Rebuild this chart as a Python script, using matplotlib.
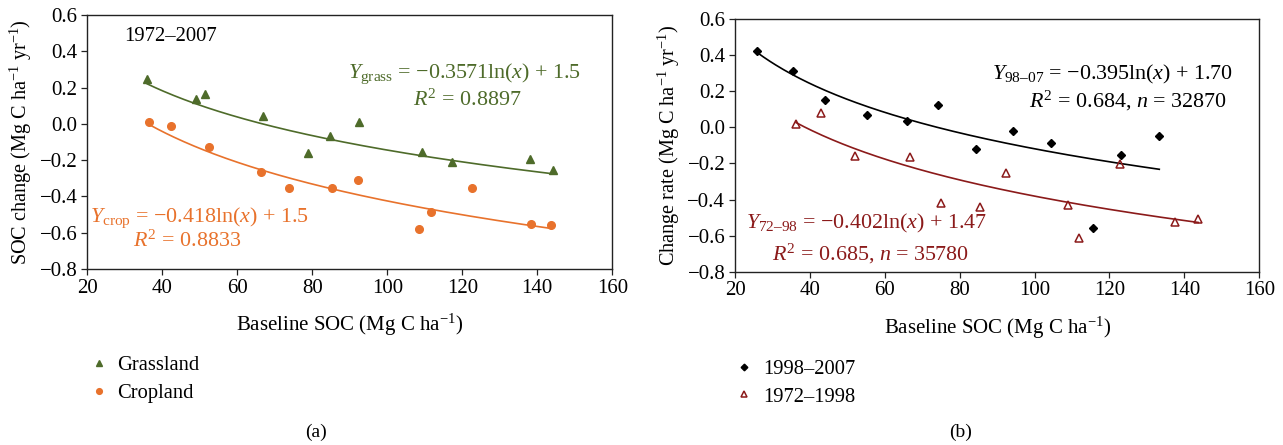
import numpy as np
import matplotlib
matplotlib.use("Agg")
import matplotlib.pyplot as plt
from matplotlib.ticker import FuncFormatter

plt.rcParams['font.family'] = ['Liberation Serif', 'DejaVu Serif']
plt.rcParams['mathtext.fontset'] = 'custom'
plt.rcParams['mathtext.rm'] = 'Liberation Serif'
plt.rcParams['mathtext.it'] = 'Liberation Serif:italic'
plt.rcParams['axes.unicode_minus'] = True

##########################################################
## Data
##########################################################

# (a) 1972-2007, SOC change vs baseline SOC
grass_x = [36.0, 48.9, 51.4, 66.8, 78.9, 84.7, 92.5, 109.4, 117.4, 138.0, 144.2]
grass_y = [0.247, 0.135, 0.163, 0.045, -0.160, -0.069, 0.012, -0.155, -0.208, -0.192, -0.254]
crop_x = [36.6, 42.4, 52.4, 66.3, 73.7, 85.4, 92.2, 108.5, 111.6, 122.6, 138.4, 143.8]
crop_y = [0.008, -0.010, -0.130, -0.265, -0.353, -0.353, -0.310, -0.581, -0.486, -0.352, -0.550, -0.557]

# (b) change rate for two periods
p9807_x = [26.0, 35.6, 44.1, 55.3, 65.9, 74.3, 84.4, 94.3, 104.4, 115.6, 123.0, 133.3]
p9807_y = [0.424, 0.313, 0.151, 0.067, 0.036, 0.121, -0.121, -0.023, -0.088, -0.560, -0.151, -0.049]
p7298_x = [36.3, 42.9, 52.1, 66.7, 75.1, 85.3, 92.3, 109.0, 111.9, 122.8, 137.5, 143.7]
p7298_y = [0.016, 0.082, -0.160, -0.166, -0.417, -0.439, -0.254, -0.428, -0.613, -0.204, -0.524, -0.508]

# log fit coefficients (slope, intercept) as printed on the chart
fit_grass = (-0.3571, 1.5)
fit_crop = (-0.418, 1.5)
fit_9807 = (-0.395, 1.70)
fit_7298 = (-0.402, 1.47)

x_ticks = [20, 40, 60, 80, 100, 120, 140, 160]
y_ticks = [-0.8, -0.6, -0.4, -0.2, 0.0, 0.2, 0.4, 0.6]

c_grass = '#4e6b2a'
c_crop = '#e8722c'
c_9807 = '#000000'
c_7298 = '#8b1a1a'

FS_TICK = 15
FS_LAB = 15
FS_EQ = 15.8


def log_curve(x, coef):
    xs = np.linspace(min(x), max(x), 200)
    return xs, coef[0] * np.log(xs) + coef[1]


def fmt_y(v, pos):
    s = '%.1f' % (round(v, 2) + 0.0)
    return s.replace('-', '\u2212')


def style_axes(ax):
    ax.set_xlim(20, 160)
    ax.set_ylim(-0.8, 0.6)
    ax.set_xticks(x_ticks)
    ax.set_yticks(y_ticks)
    ax.yaxis.set_major_formatter(FuncFormatter(fmt_y))
    ax.tick_params(direction='out', length=4, width=0.9, labelsize=FS_TICK, pad=3,
                   top=False, right=False, colors='#222222', labelcolor='black')
    for s in ax.spines.values():
        s.set_linewidth(1.0)
        s.set_color('#222222')
    ax.set_xlabel('Baseline SOC (Mg C ha$^{-1}$)', fontsize=FS_LAB, labelpad=10)


fig = plt.figure(figsize=(12.83, 4.45), dpi=100)
ax1 = fig.add_axes([0.0680, 0.3955, 0.4092, 0.5708])
ax2 = fig.add_axes([0.5729, 0.3894, 0.4086, 0.5679])

##########################################################
## Panel (a)
##########################################################
xs, ys = log_curve(grass_x, fit_grass)
ax1.plot(xs, ys, color=c_grass, lw=1.2)
xs, ys = log_curve(crop_x, fit_crop)
ax1.plot(xs, ys, color=c_crop, lw=1.2)
h1, = ax1.plot(grass_x, grass_y, ls='none', marker='^', ms=5.5, color=c_grass, label='Grassland')
h2, = ax1.plot(crop_x, crop_y, ls='none', marker='o', ms=5.5, color=c_crop, label='Cropland')
style_axes(ax1)
ax1.set_ylabel('SOC change (Mg C ha$^{-1}$ yr$^{-1}$)', fontsize=14.6, labelpad=4)

ax1.text(29.8, 0.48, '1972–2007', fontsize=14.9, va='center', ha='left')
ax1.text(120.5, 0.275, '$Y_{\\mathrm{grass}}$ = −0.3571ln($x$) + 1.5', fontsize=FS_EQ,
         color=c_grass, ha='center', va='center')
ax1.text(121.4, 0.128, '$R^2$ = 0.8897', fontsize=FS_EQ, color=c_grass, ha='center', va='center')
ax1.text(50, -0.515, '$Y_{\\mathrm{crop}}$ = −0.418ln($x$) + 1.5', fontsize=FS_EQ,
         color=c_crop, ha='center', va='center')
ax1.text(46.7, -0.645, '$R^2$ = 0.8833', fontsize=FS_EQ, color=c_crop, ha='center', va='center')

##########################################################
## Panel (b)
##########################################################
xs, ys = log_curve(p9807_x, fit_9807)
ax2.plot(xs, ys, color=c_9807, lw=1.2)
xs, ys = log_curve(p7298_x, fit_7298)
ax2.plot(xs, ys, color=c_7298, lw=1.2)
h3, = ax2.plot(p9807_x, p9807_y, ls='none', marker='D', ms=4.5, color=c_9807, label='1998–2007')
h4, = ax2.plot(p7298_x, p7298_y, ls='none', marker='^', ms=5.5, mfc='none', mec=c_7298,
               mew=1.1, label='1972–1998')
style_axes(ax2)
ax2.set_ylabel('Change rate (Mg C ha$^{-1}$ yr$^{-1}$)', fontsize=14.6, labelpad=4)

ax2.text(153, 0.29, '$Y_{\\mathrm{98–07}}$ = −0.395ln($x$) + 1.70', fontsize=FS_EQ,
         color=c_9807, ha='right', va='center')
ax2.text(151.2, 0.145, '$R^2$ = 0.684, $n$ = 32870', fontsize=FS_EQ, color=c_9807,
         ha='right', va='center')
ax2.text(55, -0.535, '$Y_{\\mathrm{72–98}}$ = −0.402ln($x$) + 1.47', fontsize=FS_EQ,
         color=c_7298, ha='center', va='center')
ax2.text(56, -0.70, '$R^2$ = 0.685, $n$ = 35780', fontsize=FS_EQ, color=c_7298,
         ha='center', va='center')

##########################################################
## Legends and panel letters
##########################################################
leg_kw = dict(frameon=False, fontsize=14.8, handlelength=0.6, handletextpad=0.6,
              labelspacing=0.4, markerscale=0.75, loc='center left',
              bbox_transform=fig.transFigure, borderaxespad=0)
fig.legend(handles=[h1, h2], bbox_to_anchor=(0.066, 1 - 379.5 / 445), **leg_kw)
fig.legend(handles=[h3, h4], bbox_to_anchor=(0.569, 1 - 383 / 445), **leg_kw)

fig.text(316 / 1283, 1 - 432 / 445, '(a)', fontsize=14, ha='center', va='center')
fig.text(961 / 1283, 1 - 432 / 445, '(b)', fontsize=14, ha='center', va='center')

fig.savefig('out.png', dpi=100)
